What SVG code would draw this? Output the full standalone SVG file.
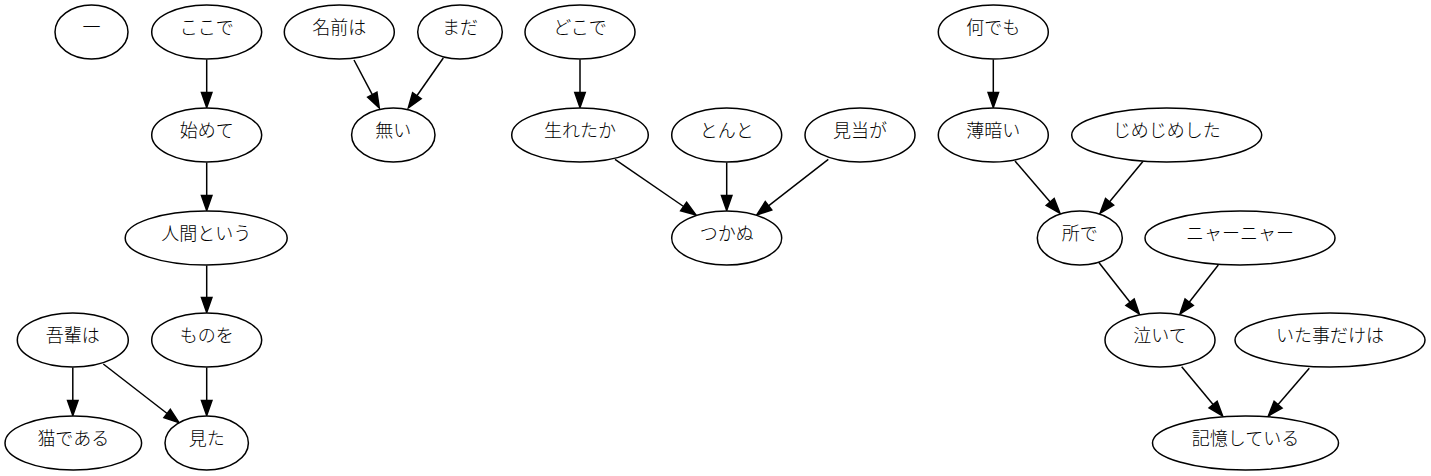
<svg xmlns="http://www.w3.org/2000/svg" width="1431" height="476" viewBox="0 0 1431 476">
<style>
.n ellipse{fill:#fff;stroke:#000;stroke-width:1.5}
.n text{font-family:"Noto Sans CJK JP","Noto Sans CJK SC",sans-serif;font-size:18px;font-weight:300;text-anchor:middle;fill:#000}
#edges line{stroke:#000;stroke-width:1.5;marker-end:url(#arr)}
</style>
<defs>
<marker id="arr" markerUnits="userSpaceOnUse" markerWidth="16" markerHeight="12" refX="0" refY="5.25" orient="auto" overflow="visible">
<path d="M0,0 L15,5.25 L0,10.5 z" fill="#000" stroke="#000" stroke-width="1.5"/>
</marker>
</defs>
<rect width="1431" height="476" fill="#fff"/>
<g id="edges">
<line x1="206.7" y1="59.5" x2="206.7" y2="92.5"/>
<line x1="354" y1="60" x2="372.3" y2="94.7"/>
<line x1="443.3" y1="58" x2="416.9" y2="95.7"/>
<line x1="580" y1="59.5" x2="580" y2="92.5"/>
<line x1="993.3" y1="59.5" x2="993.3" y2="92.5"/>
<line x1="206.7" y1="162.5" x2="206.7" y2="195.5"/>
<line x1="206.7" y1="265.5" x2="206.7" y2="297.5"/>
<line x1="206.7" y1="367.5" x2="206.7" y2="400.5"/>
<line x1="72.8" y1="367.5" x2="72.8" y2="400.5"/>
<line x1="103.3" y1="364" x2="167.15" y2="413.5"/>
<line x1="615" y1="159.3" x2="683.6" y2="206.5"/>
<line x1="726.7" y1="162.5" x2="726.7" y2="195.5"/>
<line x1="828.3" y1="159.3" x2="768.5" y2="205.8"/>
<line x1="1015" y1="161" x2="1050.2" y2="201.9"/>
<line x1="1143.3" y1="161" x2="1109.6" y2="201.75"/>
<line x1="1098.3" y1="261.7" x2="1130.05" y2="302.2"/>
<line x1="1218.3" y1="265" x2="1189.2" y2="302.2"/>
<line x1="1181.7" y1="366.7" x2="1213.1" y2="404.5"/>
<line x1="1309.3" y1="368.3" x2="1278.1" y2="404.6"/>
</g>
<g id="n1" class="n"><ellipse cx="91.5" cy="32" rx="36.5" ry="27"/><text x="91.5" y="33.5">一</text></g>
<g id="n2" class="n"><ellipse cx="206.7" cy="32" rx="55" ry="27"/><text x="206.7" y="33.5">ここで</text></g>
<g id="n3" class="n"><ellipse cx="339.3" cy="32" rx="55" ry="27"/><text x="339.3" y="33.5">名前は</text></g>
<g id="n4" class="n"><ellipse cx="460" cy="32" rx="42.3" ry="27"/><text x="460" y="33.5">まだ</text></g>
<g id="n5" class="n"><ellipse cx="580" cy="32" rx="55" ry="27"/><text x="580" y="33.5">どこで</text></g>
<g id="n6" class="n"><ellipse cx="993.3" cy="32" rx="55" ry="27"/><text x="993.3" y="33.5">何でも</text></g>
<g id="n7" class="n"><ellipse cx="206.7" cy="135" rx="55" ry="27"/><text x="206.7" y="136.5">始めて</text></g>
<g id="n8" class="n"><ellipse cx="393.3" cy="135" rx="41.7" ry="27"/><text x="393.3" y="136.5">無い</text></g>
<g id="n9" class="n"><ellipse cx="580" cy="135" rx="68.3" ry="27"/><text x="580" y="136.5">生れたか</text></g>
<g id="n10" class="n"><ellipse cx="726.7" cy="135" rx="55" ry="27"/><text x="726.7" y="136.5">とんと</text></g>
<g id="n11" class="n"><ellipse cx="860" cy="135" rx="55" ry="27"/><text x="860" y="136.5">見当が</text></g>
<g id="n12" class="n"><ellipse cx="993.3" cy="135" rx="55" ry="27"/><text x="993.3" y="136.5">薄暗い</text></g>
<g id="n13" class="n"><ellipse cx="1166.7" cy="135" rx="95" ry="27"/><text x="1166.7" y="136.5">じめじめした</text></g>
<g id="n14" class="n"><ellipse cx="206.2" cy="238" rx="81" ry="27"/><text x="206.2" y="239.5">人間という</text></g>
<g id="n15" class="n"><ellipse cx="726.7" cy="238" rx="55" ry="27"/><text x="726.7" y="239.5">つかぬ</text></g>
<g id="n16" class="n"><ellipse cx="1079.8" cy="238" rx="42.5" ry="27"/><text x="1079.8" y="239.5">所で</text></g>
<g id="n17" class="n"><ellipse cx="1240" cy="238" rx="95" ry="27"/><text x="1240" y="239.5">ニャーニャー</text></g>
<g id="n18" class="n"><ellipse cx="72.8" cy="340" rx="55.5" ry="27"/><text x="72.8" y="341.5">吾輩は</text></g>
<g id="n19" class="n"><ellipse cx="206.7" cy="340" rx="55" ry="27"/><text x="206.7" y="341.5">ものを</text></g>
<g id="n20" class="n"><ellipse cx="1160" cy="340" rx="55" ry="27"/><text x="1160" y="341.5">泣いて</text></g>
<g id="n21" class="n"><ellipse cx="1330" cy="340" rx="95" ry="27"/><text x="1330" y="341.5">いた事だけは</text></g>
<g id="n22" class="n"><ellipse cx="73.3" cy="443" rx="68.3" ry="27"/><text x="73.3" y="444.5">猫である</text></g>
<g id="n23" class="n"><ellipse cx="206.7" cy="443" rx="41.7" ry="27"/><text x="206.7" y="444.5">見た</text></g>
<g id="n24" class="n"><ellipse cx="1245.5" cy="443" rx="93" ry="27"/><text x="1245.5" y="444.5">記憶している</text></g>
</svg>
